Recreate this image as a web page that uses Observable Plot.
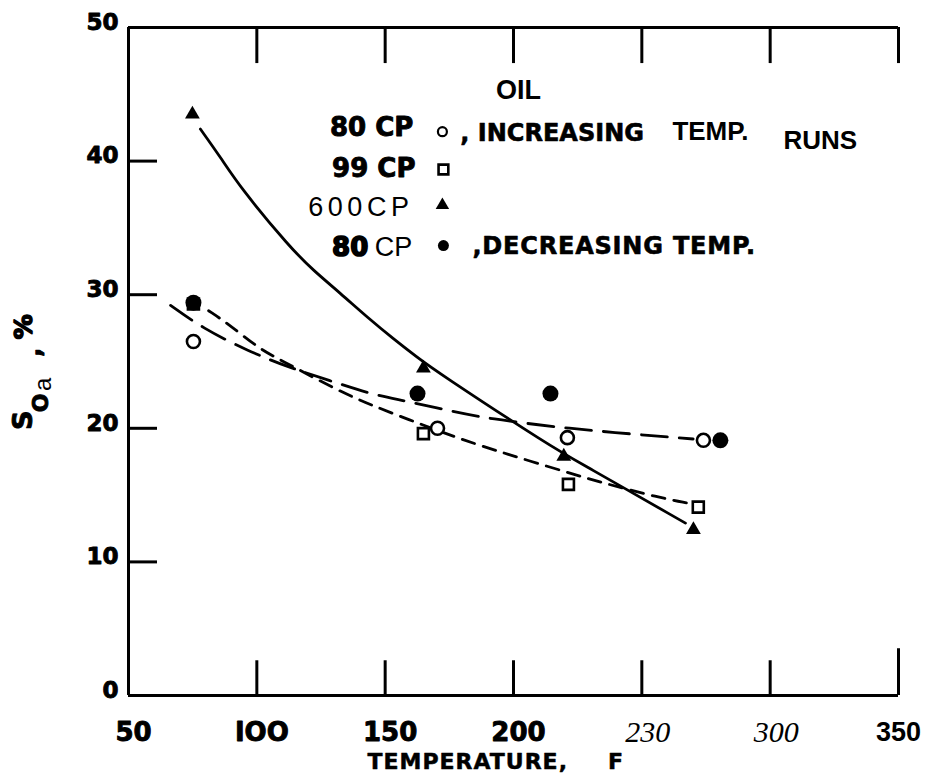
<!DOCTYPE html>
<html><head><meta charset="utf-8">
<script src="https://cdn.jsdelivr.net/npm/d3@7"></script>
<script src="https://cdn.jsdelivr.net/npm/@observablehq/plot@0.6"></script>
<style>html,body{margin:0;padding:0;background:#fff;} #chart svg{display:block;}</style>
</head><body><div id="chart"></div>
<script>
// ---- data ----
const tempInc80 = [75.3, 170.4, 221.0, 274.0];
const soInc80   = [26.5, 20.0, 19.3, 19.1];
const temp99    = [75.3, 164.9, 221.4, 272.0];
const so99      = [29.3, 19.6, 15.8, 14.1];
const temp600   = [74.9, 164.9, 219.6, 270.1];
const so600     = [43.5, 24.5, 17.9, 12.4];
const tempDec80 = [75.3, 162.6, 214.4, 280.6];
const soDec80   = [29.4, 22.6, 22.6, 19.1];

// hand-drawn fit curves
const fit600x = [78.0, 85.8, 93.6, 113.1, 122.1, 132.6, 143.1, 153.2, 162.6, 169.6, 215.6, 226.1, 267.0];
const fit600y = [42.4, 40.3, 38.0, 33.5, 31.8, 30.1, 28.3, 26.7, 25.3, 24.3, 18.5, 17.4, 12.9];
const fit80x  = [66.4, 78.8, 96.4, 111.9, 127.9, 145.4, 156.7, 175.4, 191.0, 216.3, 237.8, 270.0];
const fit80y  = [29.2, 27.5, 25.8, 24.6, 23.6, 22.5, 22.1, 21.3, 20.7, 20.1, 19.7, 19.2];
const fit99x  = [81.2, 89.0, 100.6, 108.4, 131.8, 145.0, 162.6, 179.3, 196.9, 221.0, 235.0, 257.0, 267.8];
const fit99y  = [28.8, 27.8, 26.0, 25.2, 22.8, 21.7, 20.4, 19.2, 18.1, 16.7, 15.9, 14.8, 14.4];

// ticks
const xTicks = [50, 100, 150, 200, 250, 300, 350];
const xTickLabels = ["50", "IOO", "150", "200", "230", "300", "350"];
const yTicks = [0, 10, 20, 30, 40, 50];
const yTickLabels = ["0", "10", "20", "30", "40", "50"];

// legend text
const legendNames = ["80 CP", "99 CP", "600CP", "80"];

// ---- helpers ----
const pts = (xs, ys) => xs.map((x, i) => ({x, y: ys[i]}));
const BOLD = "DejaVu Sans";
const ARIAL = "Liberation Sans";
const SERIF = "Liberation Serif";
const K = "black";
const HEAVY = {fontFamily: BOLD, fontWeight: "bold", stroke: K, strokeWidth: 0.9};
const xt = xTicks.map((v, i) => ({v, label: xTickLabels[i]}));
const yt = yTicks.map((v, i) => ({v, label: yTickLabels[i]}));
const txt = (s, o) => Plot.text([s], {text: d => d, fill: K, lineAnchor: "middle", ...o});

const chart = Plot.plot({
  width: 930, height: 781,
  marginLeft: 128, marginRight: 32, marginTop: 27, marginBottom: 86,
  x: {domain: [50, 350], axis: null},
  y: {domain: [0, 50], axis: null},
  style: {background: "white", overflow: "visible"},
  marks: [
    // frame lines
    Plot.ruleY([50], {x1: 50, x2: 350, stroke: K, strokeWidth: 3}),
    Plot.ruleY([0], {x1: 50, x2: 350, stroke: K, strokeWidth: 3}),
    Plot.ruleX([50], {y1: 0, y2: 50, stroke: K, strokeWidth: 3}),
    // ticks
    Plot.ruleX(xTicks.slice(1), {y1: 50, y2: 47.3, stroke: K, strokeWidth: 3}),
    Plot.ruleX(xTicks.slice(1, -1), {y1: 0, y2: 2.6, stroke: K, strokeWidth: 3}),
    Plot.ruleX(xTicks.slice(-1), {y1: 0, y2: 3.5, stroke: K, strokeWidth: 3}),
    Plot.ruleY(yTicks.slice(1, -1), {x1: 50, x2: 61.3, stroke: K, strokeWidth: 3}),
    // tick labels
    Plot.text(xt.filter(d => !["230", "300", "350"].includes(d.label)), {x: "v", y: 0, dx: 5, dy: 37, text: "label", lineAnchor: "middle", ...HEAVY, fontSize: 26, fill: K}),
    Plot.text(xt.filter(d => ["230", "300"].includes(d.label)), {x: "v", y: 0, dx: 6, dy: 37, text: "label", lineAnchor: "middle", fontFamily: SERIF, fontStyle: "italic", fontSize: 30, fill: K}),
    Plot.text(xt.filter(d => d.label === "350"), {x: "v", y: 0, dx: 0, dy: 37, text: "label", lineAnchor: "middle", fontFamily: ARIAL, fontWeight: "bold", fontSize: 27, fill: K}),
    Plot.text(yt, {x: 50, y: "v", dx: -10, dy: -5, text: "label", textAnchor: "end", lineAnchor: "middle", ...HEAVY, fontSize: 23, fill: K}),
    // axis titles
    txt("TEMPERATURE,", {x: 143.1, y: -5.0, textAnchor: "start", ...HEAVY, strokeWidth: 0.5, fontSize: 22}),
    txt("F", {x: 239.7, y: -5.0, ...HEAVY, strokeWidth: 0.5, fontSize: 22}),
    txt("S", {x: 9.1, y: 20.6, rotate: -90, ...HEAVY, fontSize: 27}),
    txt("O", {x: 16.0, y: 21.9, rotate: -90, ...HEAVY, fontSize: 22}),
    txt("a", {x: 16.8, y: 23.3, rotate: -90, fontFamily: ARIAL, fontSize: 24}),
    txt(",", {x: 12.5, y: 25.7, rotate: -90, ...HEAVY, fontSize: 24}),
    txt("%", {x: 9.1, y: 27.6, rotate: -90, ...HEAVY, strokeWidth: 1.5, fontSize: 25}),
    // fit curves
    Plot.line(pts(fit600x, fit600y), {x: "x", y: "y", curve: "basis", stroke: K, strokeWidth: 2.8}),
    Plot.line(pts(fit80x, fit80y), {x: "x", y: "y", curve: "basis", stroke: K, strokeWidth: 2.8, strokeDasharray: "26,12"}),
    Plot.line(pts(fit99x, fit99y), {x: "x", y: "y", curve: "basis", stroke: K, strokeWidth: 2.8, strokeDasharray: "13,9"}),
    // data points
    Plot.dot(pts(temp99, so99), {x: "x", y: "y", symbol: "square", r: 6.2, fill: "white", stroke: K, strokeWidth: 2.6}),
    Plot.dot(pts(tempDec80, soDec80), {x: "x", y: "y", symbol: "circle", r: 8, fill: K, stroke: "none"}),
    Plot.dot(pts(tempInc80, soInc80), {x: "x", y: "y", symbol: "circle", r: 6.5, fill: "white", stroke: K, strokeWidth: 2.6}),
    Plot.dot(pts(temp600, so600), {x: "x", y: "y", symbol: "triangle", r: 5.5, fill: K, stroke: "none"}),
    // legend
    txt("OIL", {x: 201.9, y: 45.3, fontFamily: ARIAL, fontWeight: "bold", fontSize: 27}),
    txt(legendNames[0], {x: 161.0, y: 42.5, textAnchor: "end", ...HEAVY, fontSize: 26}),
    txt(legendNames[1], {x: 161.8, y: 39.45, textAnchor: "end", ...HEAVY, fontSize: 26}),
    txt(legendNames[2], {x: 161.0, y: 36.55, textAnchor: "end", fontFamily: ARIAL, fontSize: 27}),
    txt(legendNames[3], {x: 143.4, y: 33.55, textAnchor: "end", ...HEAVY, strokeWidth: 1.6, fontSize: 26}),
    txt("CP", {x: 160.6, y: 33.55, textAnchor: "end", fontFamily: ARIAL, fontSize: 27}),
    Plot.dot([0], {x: 172.3, y: 42.2, symbol: "circle", r: 4.5, fill: "white", stroke: K, strokeWidth: 2.2}),
    Plot.dot([0], {x: 172.7, y: 39.37, symbol: "square", r: 5.5, fill: "white", stroke: K, strokeWidth: 2.6}),
    Plot.dot([0], {x: 172.3, y: 36.7, symbol: "triangle", r: 5, fill: K, stroke: "none"}),
    Plot.dot([0], {x: 172.7, y: 33.68, symbol: "circle", r: 5.5, fill: K, stroke: "none"}),
    txt(", INCREASING", {x: 179.3, y: 42.1, textAnchor: "start", ...HEAVY, strokeWidth: 0.6, fontSize: 24}),
    txt("TEMP.", {x: 261.9, y: 42.2, textAnchor: "start", fontFamily: ARIAL, fontWeight: "bold", fontSize: 26}),
    txt("RUNS", {x: 305.2, y: 41.55, textAnchor: "start", fontFamily: ARIAL, fontWeight: "bold", fontSize: 26}),
    txt(",DECREASING TEMP.", {x: 184.0, y: 33.65, textAnchor: "start", ...HEAVY, strokeWidth: 0.6, fontSize: 24})
  ]
});
document.getElementById("chart").appendChild(chart);

// letter spacing tweaks
const spacing = {"600CP": 4.5, "TEMPERATURE,": 1, ",DECREASING TEMP.": 0.8};
d3.select(chart).selectAll("text").each(function () {
  const t = this.textContent;
  if (spacing[t] != null) this.setAttribute("letter-spacing", spacing[t]);
  if (yTickLabels.includes(t) && this.getAttribute("text-anchor") === "end") this.setAttribute("letter-spacing", 2);
});
</script>
</body></html>
